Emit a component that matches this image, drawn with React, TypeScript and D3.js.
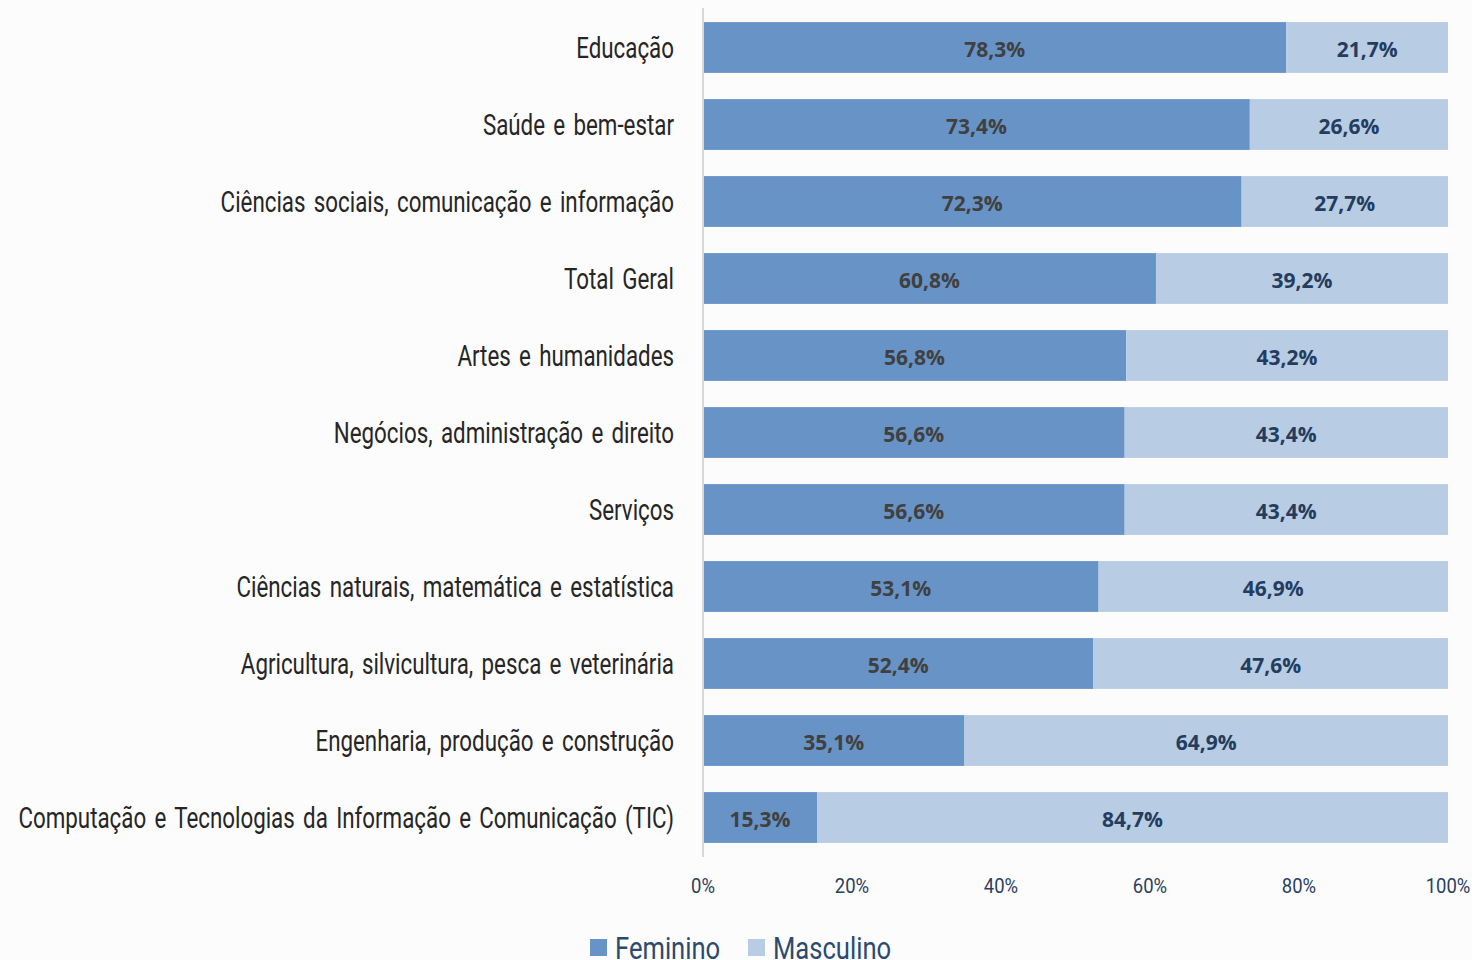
import { useEffect, useRef } from 'react'
import * as d3 from 'd3'

const categories = [
  'Educação',
  'Saúde e bem-estar',
  'Ciências sociais, comunicação e informação',
  'Total Geral',
  'Artes e humanidades',
  'Negócios, administração e direito',
  'Serviços',
  'Ciências naturais, matemática e estatística',
  'Agricultura, silvicultura, pesca e veterinária',
  'Engenharia, produção e construção',
  'Computação e Tecnologias da Informação e Comunicação (TIC)',
]
const feminino = [78.3, 73.4, 72.3, 60.8, 56.8, 56.6, 56.6, 53.1, 52.4, 35.1, 15.3]
const masculino = [21.7, 26.6, 27.7, 39.2, 43.2, 43.4, 43.4, 46.9, 47.6, 64.9, 84.7]
const xTicks = [0, 20, 40, 60, 80, 100]
const seriesNames = ['Feminino', 'Masculino']

const COLORS = ['#6893c6', '#b8cce4']
// no narrow font installed: Roboto squeezed horizontally
const narrow = 'Roboto, "Noto Sans", sans-serif'
const fmt = (v: number) => `${v.toFixed(1).replace('.', ',')}%`

export default function App() {
  const svgRef = useRef<SVGSVGElement>(null)

  useEffect(() => {
    const width = 1472
    const height = 960
    const svg = d3.select(svgRef.current!)
    svg.attr('width', width).attr('height', height).selectAll('*').remove()

    svg.append('rect').attr('width', width).attr('height', height).style('fill', '#fcfcfc')

    const x = d3.scaleLinear().domain([0, 100]).range([703, 1448])
    const y = d3.scaleBand<string>().domain(categories).range([9, 856]).paddingInner(0.34).paddingOuter(0.17)
    const cy = (d: string) => y(d)! + y.bandwidth() / 2

    // Bars
    const rows = svg.append('g').selectAll('g').data(categories).join('g')
    rows.append('rect')
      .attr('x', x(0))
      .attr('y', d => y(d)!)
      .attr('width', (_, i) => x(feminino[i]) - x(0))
      .attr('height', y.bandwidth())
      .style('fill', COLORS[0])
    rows.append('rect')
      .attr('x', (_, i) => x(feminino[i]))
      .attr('y', d => y(d)!)
      .attr('width', (_, i) => x(100) - x(feminino[i]))
      .attr('height', y.bandwidth())
      .style('fill', COLORS[1])

    // Value labels
    rows.append('text')
      .attr('x', (_, i) => x(feminino[i] / 2))
      .attr('y', d => cy(d) + 1)
      .attr('text-anchor', 'middle')
      .attr('dominant-baseline', 'central')
      .style('font-family', '"Open Sans", Lato, sans-serif')
      .style('font-weight', '700')
      .style('font-size', '21px')
      .style('fill', '#404040')
      .text((_, i) => fmt(feminino[i]))
    rows.append('text')
      .attr('x', (_, i) => x((feminino[i] + 100) / 2))
      .attr('y', d => cy(d) + 1)
      .attr('text-anchor', 'middle')
      .attr('dominant-baseline', 'central')
      .style('font-family', '"Open Sans", Lato, sans-serif')
      .style('font-weight', '700')
      .style('font-size', '21px')
      .style('fill', '#243d5e')
      .text((_, i) => fmt(masculino[i]))

    // Category labels
    svg.append('g').selectAll('text').data(categories).join('text')
      .attr('transform', d => `translate(674,${cy(d)}) scale(0.77,1)`)
      .attr('text-anchor', 'end')
      .attr('dominant-baseline', 'central')
      .style('font-family', narrow)
      .style('font-size', '29px')
      .style('word-spacing', '3.6px')
      .style('fill', '#262626')
      .text(d => d)

    // Axis line
    svg.append('line')
      .attr('x1', x(0)).attr('x2', x(0))
      .attr('y1', 8).attr('y2', 857)
      .style('stroke', '#d9d9d9')
      .style('stroke-width', 2)

    // X tick labels
    svg.append('g').selectAll('text').data(xTicks).join('text')
      .attr('transform', d => `translate(${x(d)},886) scale(0.88,1)`)
      .attr('text-anchor', 'middle')
      .attr('dominant-baseline', 'central')
      .style('font-family', narrow)
      .style('font-size', '21px')
      .style('fill', '#2b3f5f')
      .text(d => `${d}%`)

    // Legend
    const legendX = [590, 748]
    const legend = svg.append('g').selectAll('g').data(seriesNames).join('g')
      .attr('transform', (_, i) => `translate(${legendX[i]},947)`)
    legend.append('rect')
      .attr('x', 0).attr('y', -8)
      .attr('width', 17).attr('height', 17)
      .style('fill', (_, i) => COLORS[i])
    legend.append('text')
      .attr('transform', 'translate(25,1) scale(0.8,1)')
      .attr('dominant-baseline', 'central')
      .style('font-family', narrow)
      .style('font-size', '32px')
      .style('fill', '#2b4a6e')
      .text(d => d)
  }, [])

  return (
    <div style={{ position: 'fixed', top: 0, left: 0 }}>
      <svg ref={svgRef} style={{ display: 'block' }} />
    </div>
  )
}
